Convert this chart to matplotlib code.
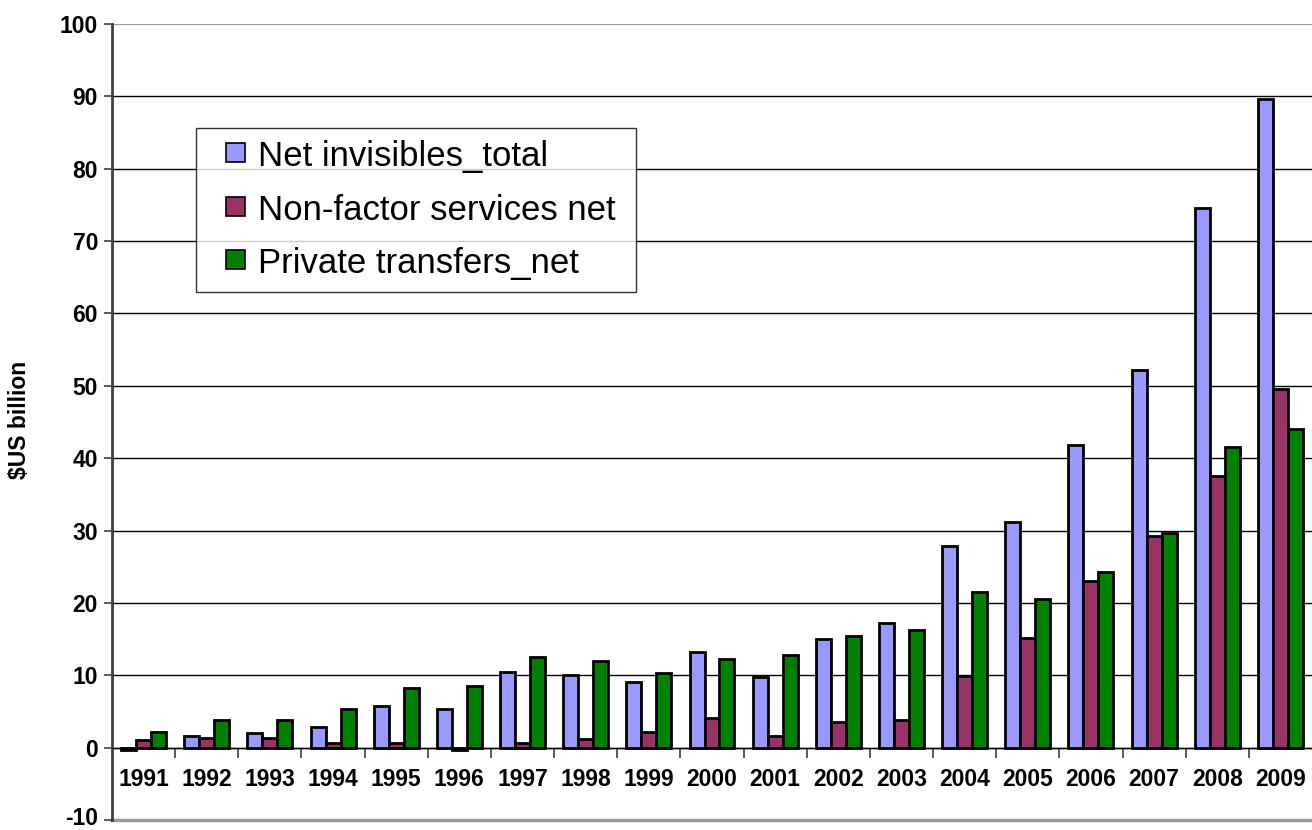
import matplotlib
matplotlib.use("Agg")
import matplotlib.pyplot as plt
import matplotlib.patches as mpatches
import matplotlib.transforms as mtransforms
from matplotlib.legend_handler import HandlerPatch
from matplotlib.container import BarContainer
import numpy as np

years = ["1991", "1992", "1993", "1994", "1995", "1996", "1997", "1998", "1999", "2000",
         "2001", "2002", "2003", "2004", "2005", "2006", "2007", "2008", "2009"]
net_invisibles = [-0.3, 1.6, 2.0, 2.9, 5.7, 5.4, 10.4, 10.1, 9.1, 13.2,
                  9.75, 15.05, 17.2, 27.8, 31.2, 41.8, 52.2, 74.6, 89.6]
non_factor = [1.0, 1.3, 1.3, 0.7, 0.7, -0.3, 0.7, 1.25, 2.2, 4.1,
              1.6, 3.5, 3.8, 9.9, 15.2, 23.0, 29.3, 37.5, 49.6]
private_transfers = [2.2, 3.8, 3.8, 5.4, 8.2, 8.5, 12.5, 11.95, 10.3, 12.2,
                     12.85, 15.4, 16.3, 21.5, 20.6, 24.3, 29.6, 41.5, 44.1]
series_names = ["Net invisibles_total", "Non-factor services net", "Private transfers_net"]
colors = ["#9999FF", "#993366", "#008000"]
yticks = list(range(-10, 101, 10))

plt.rcParams['font.family'] = ['Liberation Sans', 'DejaVu Sans']

fig = plt.figure(figsize=(13.12, 8.30), dpi=100)
ax = fig.add_axes([112/1312, 10/830, 1200/1312, 796/830])

n = len(years)
x = np.arange(n)
bw = 0.237
series = [net_invisibles, non_factor, private_transfers]
for k, (vals, col, name) in enumerate(zip(series, colors, series_names)):
    ax.bar(x + (k - 1) * bw, vals, width=bw, color=col, edgecolor="black",
           linewidth=2.0, label=name, zorder=3)

ax.set_xlim(-0.5, n - 0.5)
ax.set_ylim(-10, 100)
ax.set_yticks(yticks)
ax.set_yticklabels([str(v) for v in yticks], fontsize=16.5, fontweight="bold")
ax.tick_params(axis="y", direction="out", length=6, width=1.2, color="#404040", pad=4)
# nudge the lowest tick label up slightly so it stays inside the canvas
low_lbl = ax.get_yticklabels()[0]
low_lbl.set_transform(low_lbl.get_transform() +
                      mtransforms.ScaledTranslation(0, 3 / 72.0, fig.dpi_scale_trans))

ax.yaxis.grid(True, color="black", linewidth=1.0, zorder=0)
gl = ax.yaxis.get_gridlines()
gl[0].set_color("#999999")
gl[-1].set_color("#999999")
gl[-1].set_linewidth(1.6)

# x axis at zero with boundary ticks
ax.spines["bottom"].set_position(("data", 0))
ax.spines["bottom"].set_color("black")
ax.spines["bottom"].set_linewidth(1.0)
ax.set_xticks(np.arange(0.5, n - 0.5, 1.0))
ax.set_xticklabels([])
ax.tick_params(axis="x", direction="out", length=7, width=1.2, color="#404040")
ax.spines["top"].set_visible(False)
ax.spines["right"].set_visible(False)
ax.spines["left"].set_color("#404040")
ax.spines["left"].set_linewidth(2.0)
ax.axhline(-10, color="#999999", linewidth=2.5, clip_on=False, zorder=1)

for i, yr in enumerate(years):
    ax.text(i, -4.4, yr, ha="center", va="center", fontsize=16.5, fontweight="bold")

ax.set_ylabel("$US billion", fontsize=16.5, fontweight="bold")
ax.yaxis.set_label_coords(-0.0675, 0.5025)


def square_handle(legend, orig_handle, xdescent, ydescent, width, height, fontsize):
    s = 19.0 / fig.dpi * 72.0  # square side in points
    return mpatches.Rectangle((width - xdescent - s, -ydescent + (height - s) / 2.0 + 1),
                              s, s)


def first_child(legend_handle, orig_handle):
    legend_handle.update_from(orig_handle.patches[0])


leg = ax.legend(loc="upper left",
                bbox_to_anchor=(196/1312, 1 - 128/830, 440/1312, 0.0),
                bbox_transform=fig.transFigure, mode="expand", fontsize=25, frameon=True,
                fancybox=False, borderaxespad=0, handlelength=1.07, handleheight=0.6,
                handletextpad=0.375, labelspacing=0.6, borderpad=0.34,
                handler_map={BarContainer: HandlerPatch(patch_func=square_handle,
                                                        update_func=first_child)})
leg.get_frame().set_edgecolor("black")
leg.get_frame().set_linewidth(1.0)
for h in leg.legend_handles:
    h.set_linewidth(1.2)

fig.savefig("out.png", dpi=100)
